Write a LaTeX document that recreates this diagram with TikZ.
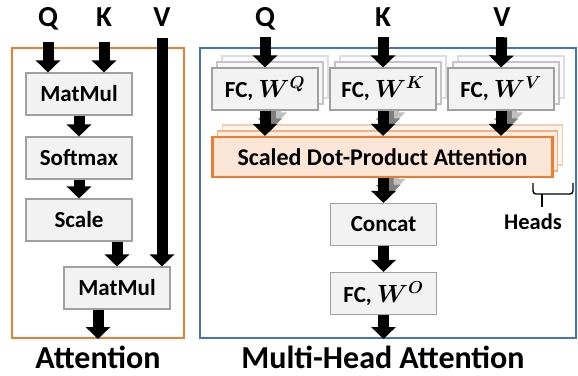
\documentclass[tikz,border=0pt]{standalone}
\usepackage{amsmath}
\usepackage{bm}
\usepackage{fontspec}
\setmainfont{Carlito}
\usepackage{tikz}
\usetikzlibrary{arrows.meta,positioning,calc,backgrounds}

\definecolor{boxfill}{HTML}{F2F2F2}
\definecolor{boxline}{HTML}{A0A0A0}
\definecolor{attorange}{HTML}{ED7D31}
\definecolor{attpeach}{HTML}{FBE5D6}
\definecolor{mhablue}{HTML}{4472C4}
\definecolor{ghostlineA}{HTML}{C4C4C4}
\definecolor{ghostfillA}{HTML}{F8F8F8}
\definecolor{ghostlineB}{HTML}{DDDDDD}
\definecolor{ghostfillB}{HTML}{FCFCFC}
\definecolor{peachlineA}{HTML}{F4B183}
\definecolor{peachfillA}{HTML}{FCEDE3}
\definecolor{peachlineB}{HTML}{F8CBAD}
\definecolor{peachfillB}{HTML}{FDF4EE}
\definecolor{greyarrowA}{HTML}{7F7F7F}
\definecolor{greyarrowB}{HTML}{C0C0C0}

\begin{document}
\begin{tikzpicture}[x=1pt, y=-1pt,
    block/.style={rectangle, draw=boxline, line width=1.1pt, fill=boxfill, minimum width=106pt, minimum height=42pt, inner sep=0pt, font=\fontsize{23}{26}\selectfont\bfseries},
    ghostA/.style={draw=ghostlineA, fill=ghostfillA},
    ghostB/.style={draw=ghostlineB, fill=ghostfillB},
    sdpablock/.style={rectangle, draw=attorange, line width=2.2pt, fill=attpeach, minimum width=340pt, minimum height=40pt, inner sep=0pt, font=\fontsize{24}{27}\selectfont\bfseries},
    sdpaghostA/.style={draw=peachlineA, fill=peachfillA, line width=1.4pt},
    sdpaghostB/.style={draw=peachlineB, fill=peachfillB, line width=1.4pt},
    inlabel/.style={inner sep=0pt, anchor=base, text height=18pt, text depth=0pt, font=\fontsize{29}{32}\selectfont\bfseries},
    paneltitle/.style={inner sep=0pt, font=\fontsize{32}{35}\selectfont\bfseries},
    fatarrow/.style={-{Triangle[width=24pt,length=12pt]}, line width=11pt, black},
    arrowA/.style={draw=greyarrowA},
    arrowB/.style={draw=greyarrowB}
  ]
    \useasboundingbox (0,0) rectangle (578,375);

    % Outer frames and their titles
    \node[draw=attorange, line width=2pt, minimum width=172pt, minimum height=290pt] (attbox) at (98,193) {};
    \node[draw=mhablue, line width=2pt, minimum width=376pt, minimum height=290pt] (mhabox) at (388,193) {};
    \node[paneltitle] (attlbl) at (98,357) {Attention};
    \node[paneltitle] (mhalbl) at (383,357) {Multi-Head Attention};

    % Scaled dot-product attention
    \node[inlabel] (lq) at (48,26) {Q};
    \node[inlabel] (lk) at (104,26) {K};
    \node[inlabel] (lv) at (162,26) {V};

    \node[block] (mm1) at (79,94) {MatMul};
    \node[block] (smax) at (79,158) {Softmax};
    \node[block] (scl) at (79,220) {Scale};
    \node[block] (mm2) at (117,288) {MatMul};

    \draw[fatarrow, shorten <=16pt] (lq.south) -- (mm1.north -| lq);
    \draw[fatarrow, shorten <=16pt] (lk.south) -- (mm1.north -| lk);
    \draw[fatarrow, shorten <=12pt] (lv.south) -- (mm2.north -| lv);
    \draw[fatarrow] (mm1) -- (smax);
    \draw[fatarrow] (smax) -- (scl);
    \draw[fatarrow] (scl.south -| mm2) -- (mm2.north);
    \draw[fatarrow] (mm2.south -| attlbl) -- (attbox.south -| attlbl);

    % Multi-head attention, front head
    \node[inlabel] (rq) at (265,26) {Q};
    \node[inlabel] (rk) at (383,26) {K};
    \node[inlabel] (rv) at (502,26) {V};

    \node[sdpablock] (sdpa) at (382.5,157) {Scaled Dot-Product Attention};
    \foreach \nm/\xx/\ws in {fcq/265/Q, fck/383/K, fcv/501/V}
      \node[block] (\nm) at (\xx,89) {FC, $\bm{W}^{\bm{\ws}}$};
    \node[block] (concat) at (383.5,224.5) {Concat};
    \node[block] (fco) at (383.5,293.5) {FC, $\bm{W}^{\bm{O}}$};

    \foreach \nm/\lb in {fcq/rq, fck/rk, fcv/rv}{
      \draw[fatarrow, shorten <=11pt] (\lb.south) -- (\nm.north);
      \draw[fatarrow] (\nm) -- (\nm.south |- sdpa.north);
    }
    \draw[fatarrow] (sdpa.south -| concat) -- (concat.north);
    \draw[fatarrow] (concat) -- (fco);
    \draw[fatarrow] (fco) -- (mhabox.south -| fco);

    % the other heads, stacked behind
    \begin{scope}[on background layer]
      \foreach \lay/\dx/\dy in {B/10/12, A/5/6}{
        \foreach \nm/\xx in {fcq/265, fck/383, fcv/501}
          \node[block, ghost\lay] (\nm\lay) at (\xx+\dx,89-\dy) {};
        \node[sdpablock, sdpaghost\lay] (sdpa\lay) at (382.5+\dx,157-\dy) {};
        \foreach \nm in {fcq, fck, fcv}
          \draw[fatarrow, arrow\lay] (\nm\lay) -- (\nm\lay.south |- sdpa\lay.north);
        \draw[fatarrow, arrow\lay] (sdpa\lay.south -| fck\lay) -- ([xshift=\dx pt, yshift=\dy pt]concat.north);
      }
    \end{scope}

    % heads brace
    \coordinate (hbl) at (533,183);
    \coordinate (hbr) at (573,183);
    \coordinate (hbt) at (542,194);
    \draw[line width=1.4pt, rounded corners=3pt] (hbl) |- (hbt) -| (hbr);
    \draw[line width=1.4pt] (hbt) -- ++(0,13);
    \node[font=\fontsize{22.5}{25}\selectfont\bfseries] (heads) at (533,222) {Heads};
\end{tikzpicture}
\end{document}
